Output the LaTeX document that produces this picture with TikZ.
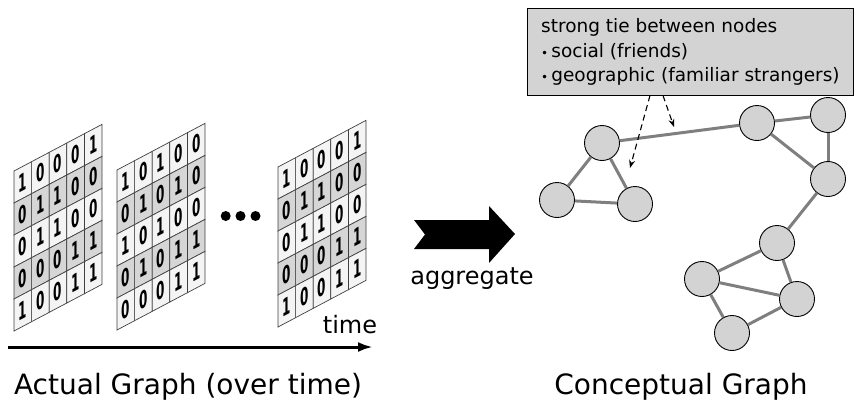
\documentclass[tikz,border=0pt]{standalone}
\usepackage{fontspec}
\setmainfont{DejaVu Sans}
\usetikzlibrary{arrows.meta}
\definecolor{cellgrey}{HTML}{D6D6D6}
\definecolor{celllight}{HTML}{F4F4F4}
\definecolor{nodegrey}{HTML}{D3D3D3}
\definecolor{edgegrey}{HTML}{7F7F7F}
\definecolor{gridcol}{HTML}{404040}
\newcommand\mydrawmatrix[3]{%
  \begin{scope}[shift={#1}, yslant=0.53]
    \foreach \rowdata [count=\r from 0] in {#2} {
      \foreach \v [count=\c from 0] in \rowdata {
        \ifodd\r \def\cc{cellgrey}\else\def\cc{celllight}\fi
        \filldraw[fill=\cc, draw=gridcol, line width=0.7bp]
          (\c*17.6, -160+\r*32) rectangle ++(17.6, 32);
        \node[digit] (#3-\r-\c) at (\c*17.6+8.8, -160+\r*32+16) {\scalebox{0.5}[1]{\v}};
      }
    }
  \end{scope}}
\begin{document}
\begin{tikzpicture}[x=1bp, y=-1bp,
  digit/.style={transform shape, inner sep=0, font=\fontsize{24bp}{24bp}\selectfont\bfseries},
  gnode/.style={circle, draw=black, line width=0.9bp, fill=nodegrey, minimum size=35bp, inner sep=0},
  gedge/.style={draw=edgegrey, line width=3bp},
  dasharrow/.style={dashed, dash pattern=on 6bp off 4bp, line width=1.1bp, -{Stealth[length=8bp, width=6bp]}},
  boxtext/.style={anchor=base west, inner sep=0, font=\fontsize{18.5bp}{22bp}\selectfont},
  biglbl/.style={anchor=base, inner sep=0, font=\fontsize{28bp}{34bp}\selectfont},
  midlbl/.style={anchor=base, inner sep=0, font=\fontsize{24bp}{30bp}\selectfont}]
\useasboundingbox (0,0) rectangle (856,401);

% matrices
\mydrawmatrix{(14,331)}{{1,0,0,0,1},{0,1,1,0,0},{0,1,1,0,0},{0,0,0,1,1},{1,0,0,1,1}}{ma}
\mydrawmatrix{(117,330)}{{1,0,1,0,0},{0,1,0,1,0},{1,0,1,0,0},{0,1,0,1,1},{0,0,0,1,1}}{mb}
\mydrawmatrix{(278,327)}{{1,0,0,0,1},{0,1,1,0,0},{0,1,1,0,0},{0,0,0,1,1},{1,0,0,1,1}}{mc}

% dots
\foreach \x [count=\i] in {225.7,240.5,255.5}
  \fill[black] (\x,216) circle (5bp);

% time axis
\coordinate (tstart) at (8,347);
\coordinate (tend) at (373,347);
\draw[line width=3bp, -{Latex[length=15bp, width=10bp]}] (tstart) -- (tend);
\node[midlbl] (timelbl) at (350,333) {time};

% aggregate arrow
\fill[black] (414,220) -- (489,220) -- (489,206) -- (515,234) -- (489,263)
  -- (489,249) -- (414,249) -- (425,234.5) -- cycle;
\node[midlbl] (agg) at (472,284) {aggregate};

% titles
\node[biglbl] (t1) at (188,394) {Actual Graph (over time)};
\node[biglbl] (t2) at (681,394) {Conceptual Graph};

% conceptual graph
\node[gnode] (A) at (602,143) {};
\node[gnode] (B) at (557,200) {};
\node[gnode] (C) at (635,204) {};
\node[gnode] (D) at (757,123) {};
\node[gnode] (E) at (828,115) {};
\node[gnode] (F) at (828,179) {};
\node[gnode] (G) at (777,243) {};
\node[gnode] (H) at (702,279) {};
\node[gnode] (I) at (797,299) {};
\node[gnode] (J) at (732,333) {};
\foreach \a/\b in {A/D, A/B, A/C, B/C, D/E, D/F, E/F, F/G, G/H, G/I, H/I, H/J, I/J}
  \draw[gedge] (\a) -- (\b);

% tie box
\node[draw=black, line width=0.9bp, fill=nodegrey, minimum width=326bp, minimum height=87bp,
  anchor=north west, inner sep=0] (tiebox) at (527,8) {};
\node[boxtext] (l1) at (541,32) {strong tie between nodes};
\node[boxtext] (l2) at (541,57) {{\fontsize{12bp}{12bp}\selectfont •}\,social (friends)};
\node[boxtext] (l3) at (541,81) {{\fontsize{12bp}{12bp}\selectfont •}\,geographic (familiar strangers)};

\coordinate (s1) at (650,95.5);
\coordinate (e1) at (630,168);
\coordinate (s2) at (663,95.5);
\coordinate (e2) at (674,127);
\draw[dasharrow] (s1) -- (e1);
\draw[dasharrow] (s2) -- (e2);
\end{tikzpicture}
\end{document}
